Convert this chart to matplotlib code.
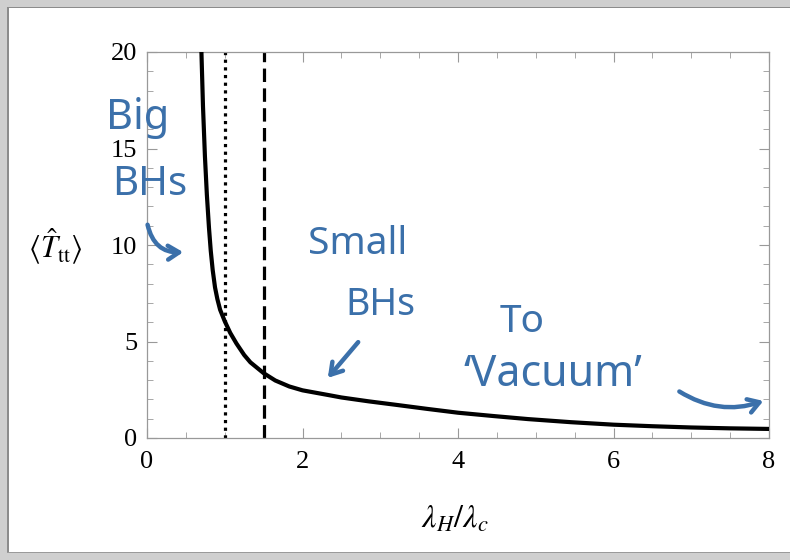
import numpy as np
import matplotlib
matplotlib.use('Agg')
import matplotlib.pyplot as plt
from matplotlib.patches import Rectangle

plt.rcParams['mathtext.fontset'] = 'stix'
plt.rcParams['font.family'] = ['Liberation Serif', 'DejaVu Serif']

# curve
ratio = [0.70, 0.72, 0.745, 0.77, 0.797, 0.82, 0.845, 0.875, 0.905, 0.94, 1.00,
         1.07, 1.15, 1.25, 1.33, 1.50, 1.65, 1.83, 2.00, 2.34, 2.50, 2.85, 3.20,
         3.60, 4.00, 4.45, 4.90, 5.45, 6.00, 6.50, 7.00, 7.50, 8.00]
T_tt = [20.0, 17.2, 14.6, 12.6, 10.9, 9.7, 8.7, 7.8, 7.2, 6.65, 6.05,
        5.45, 4.9, 4.3, 3.92, 3.36, 2.98, 2.67, 2.47, 2.22, 2.1, 1.9, 1.72,
        1.51, 1.31, 1.14, 0.98, 0.82, 0.69, 0.61, 0.545, 0.50, 0.47]
dotted_x = 1.0
dashed_x = 1.5
xticks = [0, 2, 4, 6, 8]
yticks = [0, 5, 10, 15, 20]

blue = '#3b70aa'
hand = ['Noto Sans', 'DejaVu Sans']

fig = plt.figure(figsize=(7.9, 5.6), dpi=100)
ax = fig.add_axes([147/790, 1-438/560, 622/790, 386/560])

ax.plot(ratio, T_tt, color='black', lw=3, solid_joinstyle='round', zorder=3)
ax.axvline(dotted_x, color='black', lw=2.3, linestyle=(0, (1.0, 1.4)))
ax.axvline(dashed_x, color='black', lw=2.3, linestyle=(0, (4.2, 2.0)))

ax.set_xlim(0, 8)
ax.set_ylim(0, 20)
ax.set_xticks(xticks)
ax.set_yticks(yticks)
ax.set_xticks(np.arange(0, 8.01, 0.5), minor=True)
ax.set_yticks(np.arange(0, 20.01, 1), minor=True)
ax.tick_params(which='both', direction='in', top=True, right=True, color='#999999',
               labelsize=19, labelcolor='black')
ax.tick_params(which='major', length=7, width=0.8)
ax.tick_params(which='minor', length=4, width=0.6)
ax.tick_params(axis='x', pad=9)
ax.tick_params(axis='y', pad=7)
ax.tick_params(axis='both', which='both', labeltop=False, labelright=False)
for s in ax.spines.values():
    s.set_color('#999999')
    s.set_linewidth(0.9)

fig.text(55/790, 1-247/560, r'$\langle\hat{T}_{\rm tt}\rangle$', fontsize=22,
         ha='center', va='center')
fig.text(455/790, 1-520/560, r'$\lambda_H/\lambda_c$', fontsize=23,
         ha='center', va='center')

# hand-written notes
def note(s, px, py, size):
    fig.text(px/790, 1-py/560, s, color=blue, fontsize=size, family=hand,
             ha='center', va='center')

note('Big', 138, 118, 30)
note('BHs', 150, 185, 29)
note('Small', 358, 244, 28)
note('BHs', 380, 305, 27)
note('To', 522, 322, 28)
note('\u2018Vacuum\u2019', 553, 375, 31)

def arrow(p0, p1, rad):
    fig.add_artist(matplotlib.patches.FancyArrowPatch(
        (p0[0]/790, 1-p0[1]/560), (p1[0]/790, 1-p1[1]/560),
        transform=fig.transFigure, arrowstyle='->,head_length=8,head_width=5',
        connectionstyle='arc3,rad=%s' % rad, color=blue, lw=3.2,
        mutation_scale=1))

arrow((147, 222), (186, 252), 0.45)
arrow((360, 340), (326, 380), 0.0)
arrow((677, 390), (766, 400), 0.25)

# screenshot frame
fig.add_artist(Rectangle((0, 1-8/560), 1, 8/560, transform=fig.transFigure,
                         color='#cfcfcf', lw=0))
fig.add_artist(Rectangle((0, 1-8/560), 1, 1.5/560, transform=fig.transFigure,
                         color='#8c8c8c', lw=0))
fig.add_artist(Rectangle((0, 0), 8/790, 1, transform=fig.transFigure,
                         color='#cfcfcf', lw=0))
fig.add_artist(Rectangle((7/790, 0), 1.5/790, 1-7/560, transform=fig.transFigure,
                         color='#8c8c8c', lw=0))
fig.add_artist(Rectangle((0, 0), 1, 7/560, transform=fig.transFigure,
                         color='#cfcfcf', lw=0))
fig.add_artist(Rectangle((7/790, 7/560), 1, 1.2/560, transform=fig.transFigure,
                         color='#9a9a9a', lw=0))

fig.savefig('out.png', dpi=100)
